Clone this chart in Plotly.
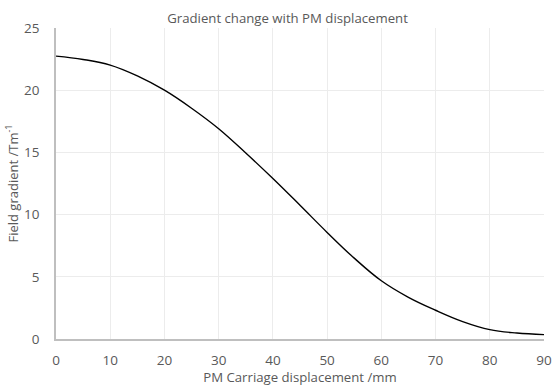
import plotly.graph_objects as go

displacement_mm = [0, 5, 10, 15, 20, 25, 30, 35, 40, 45, 50, 55, 60, 65, 70, 75, 80, 85, 90]
gradient_T_per_m = [22.74, 22.47, 22.02, 21.15, 20.0, 18.55, 16.9, 14.95, 12.9, 10.75, 8.57, 6.5, 4.68, 3.35, 2.31, 1.4, 0.75, 0.48, 0.35]
x_ticks = [0, 10, 20, 30, 40, 50, 60, 70, 80, 90]
y_ticks = [0, 5, 10, 15, 20, 25]

font_family = "Open Sans, Liberation Sans, sans-serif"
grey = "#595959"

fig = go.Figure()
fig.add_trace(go.Scatter(
    x=displacement_mm, y=gradient_T_per_m, mode="lines",
    line=dict(color="black", width=1.4, shape="spline", smoothing=1.1),
    showlegend=False, hoverinfo="skip"))

fig.update_layout(
    width=553, height=386,
    margin=dict(l=56, r=9, t=28, b=47, autoexpand=False),
    paper_bgcolor="white", plot_bgcolor="white",
    font=dict(family=font_family, color=grey, size=13),
    title=dict(text="Gradient change with PM displacement", x=0.52, xanchor="center",
               y=1 - 18 / 386, yanchor="middle", font=dict(size=13.2, color=grey)),
    xaxis=dict(range=[0, 90], tickvals=x_ticks, showgrid=True, gridcolor="#ececec",
               showline=True, linecolor="#bfbfbf", linewidth=1.5, zeroline=False,
               ticks="", tickfont=dict(size=13.5, color=grey), automargin=False,
               ticklabelstandoff=8,
               title=dict(text="PM Carriage displacement /mm", font=dict(size=13.2, color=grey), standoff=5)),
    yaxis=dict(range=[0, 25], tickvals=y_ticks, showgrid=True, gridcolor="#ececec",
               showline=True, linecolor="#bfbfbf", linewidth=1.5, zeroline=False,
               ticks="", tickfont=dict(size=13.5, color=grey), automargin=False,
               ticklabelstandoff=12,
               title=dict(text="Field gradient /Tm<sup>-1</sup>", font=dict(size=13, color=grey), standoff=3)),
)

fig.write_html("out.html", config={"displayModeBar": False},
               post_script="document.body.style.margin='0';document.body.style.padding='0';document.body.style.overflow='hidden';")
